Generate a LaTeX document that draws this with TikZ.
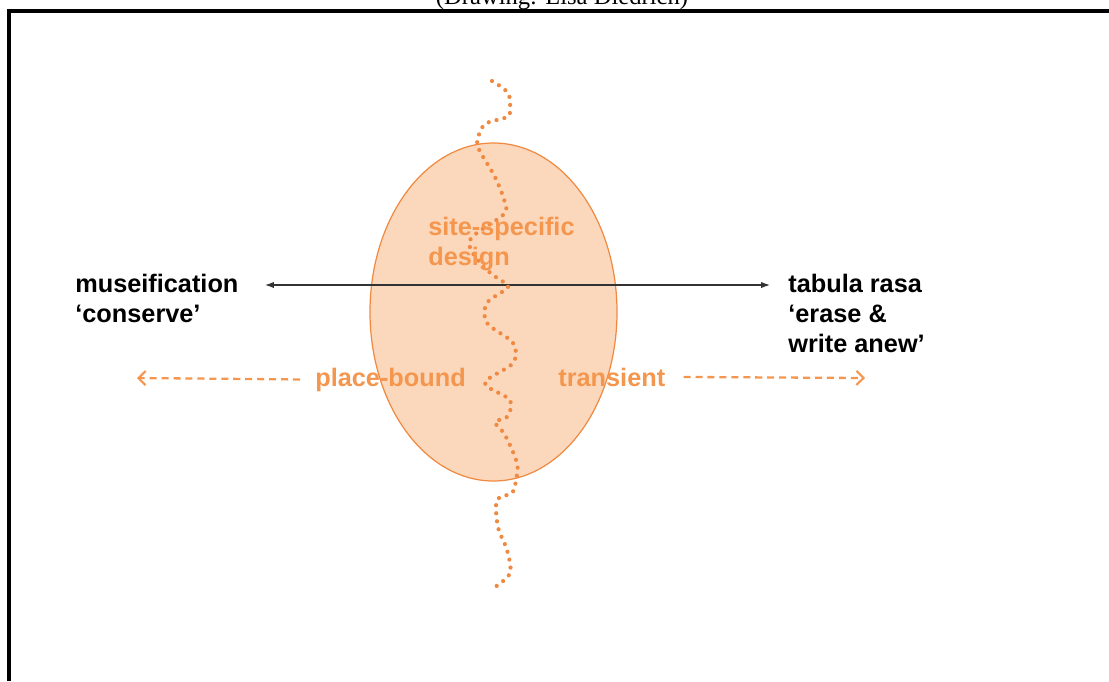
\documentclass[tikz,border=0pt]{standalone}
\usepackage{fontspec}
\setmainfont{Liberation Sans}
\newfontfamily\creditfont{Liberation Serif}
\usetikzlibrary{arrows.meta}
\definecolor{eggfill}{RGB}{251,216,188}
\definecolor{eggline}{RGB}{240,138,66}
\definecolor{orangetext}{RGB}{245,150,78}
\begin{document}
\begin{tikzpicture}[x=0.02cm,y=-0.02cm,
  label/.style={font=\fontsize{14.4}{17}\selectfont\bfseries,align=left,inner sep=0pt},
  orangelabel/.style={label,text=orangetext},
  dasharrow/.style={orangetext,line width=1.3pt,dash pattern=on 4pt off 2.8pt,-{Straight Barb[length=4pt,width=8pt,line width=1.2pt]}},
  blackarrow/.style={black!80,line width=0.6pt,{Latex[length=5pt,width=3.5pt]}-{Latex[length=5pt,width=3.5pt]}}]
\path[use as bounding box] (0,0) rectangle (1109,681);
% frame and credit line
\draw[line width=1.8pt] (9,681) -- (9,11) -- (1109,11);
\node[anchor=base,inner sep=0pt,font=\creditfont\fontsize{14}{16}\selectfont] (credit) at (562,4) {(Drawing: Lisa Diedrich)};
% the egg
\draw[eggline,fill=eggfill,line width=0.7pt] (493.5,312) ellipse (123.5 and 169);
% black axis
\coordinate (axisL) at (265,285);
\coordinate (axisR) at (770,285);
\draw[blackarrow] (axisL) -- (axisR);
\node[label,anchor=base west] (museum) at (75,322) {museification\\‘conserve’};
\node[label,anchor=base west] (tabula) at (788,352) {tabula rasa\\‘erase \&\\write anew’};
% the wavy border
\draw[eggline,line width=2.4pt,line cap=round,dash pattern=on 0pt off 4.6pt]
  plot[smooth,tension=0.55] coordinates {(492,81) (508,93) (510,110) (507,117) (487,123) (480,132)
  (478,147) (495,177) (505,203) (503,215) (470,240) (480,263) (497,278) (508,287) (487,303)
  (487,323) (513,343) (513,363) (485,383) (510,400) (507,417) (495,422) (505,435) (517,463)
  (516,480) (512,493) (497,500) (498,527) (507,550) (510,573) (495,587)};
\node[orangelabel,anchor=base west] (site) at (428,265) {site-specific\\design};
% orange arrows
\node[orangelabel,anchor=base west] (place) at (315,386) {place-bound};
\node[orangelabel,anchor=base west] (trans) at (558,386) {transient};
\coordinate (placeTip) at (137,378);
\coordinate (transTip) at (865,378);
\draw[dasharrow] ([xshift=-15*0.02cm]place.west) -- (placeTip);
\draw[dasharrow] ([xshift=18*0.02cm]trans.east) -- (transTip);
\end{tikzpicture}
\end{document}
